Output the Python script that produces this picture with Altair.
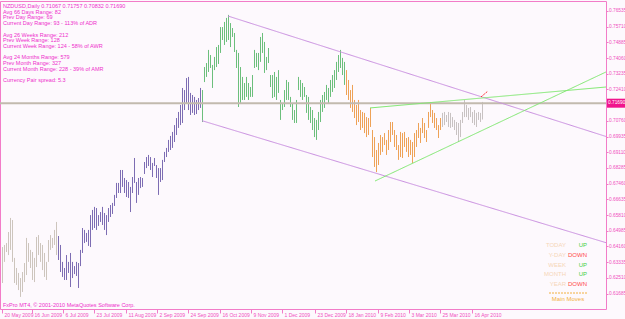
import altair as alt
import pandas as pd

# ---------------- data ----------------
highs = [
    0.6413, 0.6424, 0.6434, 0.6492, 0.6566, 0.6555, 0.6356, 0.6303, 0.6277, 0.6250,
    0.6282, 0.6329, 0.6461, 0.6434, 0.6398, 0.6387, 0.6356, 0.6466, 0.6476, 0.6434,
    0.6424, 0.6382, 0.6335, 0.6450, 0.6476, 0.6461, 0.6503, 0.6545,
    0.6471, 0.6424, 0.6335, 0.6303, 0.6371, 0.6335, 0.6382, 0.6335, 0.6313, 0.6335,
    0.6329, 0.6398, 0.6513, 0.6503, 0.6487, 0.6503, 0.6581, 0.6608, 0.6624, 0.6618,
    0.6581, 0.6597, 0.6624, 0.6592, 0.6581, 0.6618, 0.6634, 0.6645, 0.6687, 0.6750,
    0.6750, 0.6818, 0.6818, 0.6776, 0.6765, 0.6755, 0.6729, 0.6781, 0.6881, 0.6755,
    0.6776, 0.6781, 0.6776, 0.6860, 0.6886, 0.6897, 0.6886, 0.6855, 0.6881, 0.6844,
    0.6828, 0.6828, 0.6871, 0.6913, 0.6934, 0.6976, 0.6997, 0.7018, 0.7054, 0.7091,
    0.7123, 0.7160, 0.7249, 0.7238, 0.7301, 0.7307, 0.7223, 0.7212, 0.7202, 0.7186,
    0.7196, 0.7249,
    0.7238, 0.7359, 0.7380, 0.7449, 0.7422, 0.7370, 0.7412, 0.7464, 0.7475, 0.7569,
    0.7569, 0.7596, 0.7617, 0.7633, 0.7590, 0.7564, 0.7538, 0.7449, 0.7433, 0.7359,
    0.7307, 0.7275, 0.7307, 0.7275, 0.7254, 0.7317, 0.7449, 0.7433, 0.7433, 0.7517,
    0.7538, 0.7491, 0.7412, 0.7459, 0.7317, 0.7317, 0.7333, 0.7307, 0.7343, 0.7186,
    0.7170, 0.7238, 0.7291, 0.7280, 0.7202, 0.7170, 0.7133, 0.7186, 0.7307, 0.7291,
    0.7275, 0.7254, 0.7212, 0.7202, 0.7149, 0.7133, 0.7091, 0.7081, 0.7123, 0.7186,
    0.7212, 0.7228, 0.7265, 0.7249, 0.7291, 0.7317, 0.7343, 0.7386, 0.7422, 0.7449,
    0.7407, 0.7386,
    0.7343, 0.7291, 0.7238, 0.7265, 0.7186, 0.7160, 0.7186, 0.7133, 0.7123, 0.7118,
    0.7096, 0.7091, 0.7144, 0.7028, 0.6991, 0.6923, 0.6960, 0.7002, 0.6991, 0.7012,
    0.6976, 0.7028, 0.7070, 0.7070, 0.7028, 0.7002, 0.6949, 0.7018, 0.7012, 0.7018,
    0.6986, 0.6991, 0.6976, 0.6965, 0.7012, 0.7028, 0.7065, 0.7039, 0.7091, 0.7065,
    0.7028, 0.7123, 0.7175, 0.7133, 0.7118, 0.7091, 0.7054, 0.7091,
    0.7118, 0.7123, 0.7107, 0.7123, 0.7118, 0.7096, 0.7081, 0.7070, 0.7065, 0.7081,
    0.7123, 0.7186, 0.7160, 0.7144, 0.7149, 0.7123, 0.7133, 0.7118, 0.7123, 0.7118,
    0.71757,
]
lows = [
    0.6224, 0.6335, 0.6387, 0.6371, 0.6398, 0.6335, 0.6224, 0.6214, 0.6187, 0.6151,
    0.6177, 0.6229, 0.6266, 0.6335, 0.6303, 0.6240, 0.6229, 0.6308, 0.6371, 0.6335,
    0.6292, 0.6256, 0.6240, 0.6335, 0.6398, 0.6408, 0.6424, 0.6371,
    0.6345, 0.6282, 0.6256, 0.6240, 0.6240, 0.6277, 0.6203, 0.6250, 0.6271, 0.6261,
    0.6198, 0.6313, 0.6382, 0.6434, 0.6440, 0.6419, 0.6413, 0.6503, 0.6513, 0.6503,
    0.6524, 0.6545, 0.6529, 0.6503, 0.6476, 0.6545, 0.6571, 0.6587, 0.6629, 0.6671,
    0.6697, 0.6697, 0.6729, 0.6697, 0.6676, 0.6671, 0.6597, 0.6697, 0.6750, 0.6645,
    0.6687, 0.6723, 0.6729, 0.6797, 0.6828, 0.6839, 0.6818, 0.6781, 0.6839, 0.6776,
    0.6687, 0.6755, 0.6765, 0.6860, 0.6886, 0.6913, 0.6923, 0.6934, 0.6965, 0.7002,
    0.7039, 0.7054, 0.7065, 0.7133, 0.7170, 0.7133, 0.7107, 0.7118, 0.7107, 0.7112,
    0.7133, 0.7144,
    0.7070, 0.7280, 0.7307, 0.7333, 0.7354, 0.7249, 0.7343, 0.7359, 0.7375, 0.7433,
    0.7501, 0.7475, 0.7491, 0.7501, 0.7464, 0.7517, 0.7438, 0.7354, 0.7149, 0.7170,
    0.7186, 0.7186, 0.7202, 0.7186, 0.7202, 0.7202, 0.7354, 0.7359, 0.7343, 0.7386,
    0.7433, 0.7328, 0.7343, 0.7380, 0.7254, 0.7196, 0.7202, 0.7186, 0.7223, 0.7081,
    0.7133, 0.7149, 0.7186, 0.7186, 0.7149, 0.7081, 0.7065, 0.7065, 0.7238, 0.7202,
    0.7186, 0.7202, 0.7118, 0.7081, 0.7065, 0.7028, 0.6991, 0.6976, 0.7028, 0.7070,
    0.7123, 0.7144, 0.7186, 0.7170, 0.7202, 0.7228, 0.7249, 0.7291, 0.7333, 0.7354,
    0.7317, 0.7265,
    0.7212, 0.7186, 0.7144, 0.7123, 0.7091, 0.7054, 0.7070, 0.7028, 0.7039, 0.7012,
    0.6991, 0.7002, 0.7044, 0.6886, 0.6834, 0.6807, 0.6844, 0.6897, 0.6913, 0.6949,
    0.6897, 0.6923, 0.6965, 0.7002, 0.6939, 0.6923, 0.6871, 0.6886, 0.6881, 0.6939,
    0.6913, 0.6886, 0.6897, 0.6855, 0.6886, 0.6939, 0.6986, 0.6960, 0.7012, 0.6986,
    0.6965, 0.7039, 0.7096, 0.7065, 0.7039, 0.7028, 0.6986, 0.7028,
    0.7044, 0.7054, 0.7070, 0.7044, 0.7039, 0.7044, 0.7028, 0.7002, 0.6965, 0.6991,
    0.7065, 0.7096, 0.7096, 0.7081, 0.7096, 0.7065, 0.7054, 0.7044, 0.7081, 0.7070,
    0.70832,
]
phase_starts = [0, 28, 100, 172, 220]
phase_names = ["early", "rise", "top", "fall", "recent"]

date_ticks = [0, 15, 30.5, 46, 62, 77.5, 93, 109, 124.5, 140, 156.5, 172, 188, 203.5, 219, 235]
date_labels = ["20 May 2009", "16 Jun 2009", "6 Jul 2009", "23 Jul 2009", "11 Aug 2009",
               "2 Sep 2009", "24 Sep 2009", "16 Oct 2009", "9 Nov 2009", "1 Dec 2009",
               "23 Dec 2009", "18 Jan 2010", "9 Feb 2010", "3 Mar 2010", "25 Mar 2010",
               "16 Apr 2010"]
price_ticks = [0.76535, 0.75710, 0.74885, 0.74060, 0.73235, 0.72410, 0.70760, 0.69935,
               0.69110, 0.68285, 0.67460, 0.66635, 0.65810, 0.64985, 0.64160, 0.63335,
               0.62510, 0.61685, 0.60860]
last_close = 0.71690

# trend lines: (bar index, price)
line_names = ["chan_up", "chan_up", "chan_dn", "chan_dn", "tri_flat", "tri_flat",
              "tri_steep", "tri_steep", "arrow", "arrow"]
line_idx = [113, 302, 100, 302, 184, 302, 186.5, 302, 239.5, 243]
line_price = [0.7627, 0.6994, 0.7077, 0.6436, 0.7144, 0.7254, 0.6760, 0.7333, 0.7202, 0.7233]

info_lines = ["NZDUSD,Daily  0.71067 0.71757 0.70832 0.71690", "Avg 66 Days Range: 82",
              "Prev Day Range: 69", "Current Day Range: 93 - 113% of ADR", "",
              "Avg 26 Weeks Range: 212", "Prev Week Range: 128",
              "Current Week Range: 124 - 58% of AWR", "", "Avg 24 Months Range: 579",
              "Prev Month Range: 327", "Current Month Range: 228 - 39% of AMR", "",
              "Currency Pair spread: 5.3"]
moves_names = ["TODAY", "Y-DAY", "WEEK", "MONTH", "YEAR"]
moves_dirs = ["UP", "DOWN", "UP", "UP", "DOWN"]

# ---------------- styling ----------------
PINK = "#f04fc0"
BORDER = "#f27cc8"
FONT = "Liberation Sans"
phase_colors = ["#cdc5bd", "#7d6db3", "#6cbf7c", "#eea257", "#c8c2c2"]
line_colors = {"chan_up": "#c98ee0", "chan_dn": "#c98ee0", "tri_flat": "#7ee86e",
               "tri_steep": "#7ee86e", "arrow": "#ff3030"}

n = len(highs)
phase = []
for i in range(n):
    k = max(j for j, s in enumerate(phase_starts) if i >= s)
    phase.append(phase_names[k])
bars = pd.DataFrame({"i": list(range(n)), "hi": highs, "lo": lows, "phase": phase})

xscale = alt.Scale(domain=[-1, 302], nice=False, zero=False)
yscale = alt.Scale(domain=[0.60875, 0.77060], nice=False, zero=False)

label_expr = " : ".join(f"datum.value == {t} ? '{l}'" for t, l in zip(date_ticks, date_labels)) + " : ''"

xaxis = alt.Axis(
    values=date_ticks, labelExpr=label_expr, orient="bottom", title=None, grid=False,
    domain=False, tickSize=4, tickColor=BORDER, labelAlign="left", labelBaseline="middle",
    labelPadding=1, labelOffset=2, labelFontSize=5, labelColor=PINK, labelFont=FONT,
    labelOverlap=False, labelFlush=False)
yaxis = alt.Axis(
    values=price_ticks, format=".5f", orient="right", title=None, grid=False, domain=False,
    tickSize=2, tickColor=BORDER, labelFontSize=4.8, labelColor=PINK, labelFont=FONT,
    labelPadding=0.5, labelOverlap=False, labelFlush=False)


def X(field):
    return alt.X(field, scale=xscale, axis=xaxis, title=None)


def Y(field):
    return alt.Y(field, scale=yscale, axis=yaxis, title=None)


bar_layer = alt.Chart(bars).mark_rule(strokeWidth=1, xOffset=0.5).encode(
    x=X("i:Q"), y=Y("hi:Q"), y2="lo:Q",
    color=alt.Color("phase:N", scale=alt.Scale(domain=phase_names, range=phase_colors), legend=None),
)

price_line = alt.Chart(pd.DataFrame({"p": [last_close]})).mark_rule(
    color="#c2baae", strokeWidth=2).encode(y=Y("p:Q"))

lines_df = pd.DataFrame({"name": line_names, "i": line_idx, "p": line_price})
trend_layers = []
for nm, col in line_colors.items():
    sub = lines_df[lines_df["name"] == nm]
    trend_layers.append(alt.Chart(sub).mark_line(
        color=col, strokeWidth=1, clip=True,
        strokeDash=[2, 1] if nm == "arrow" else [1, 0]).encode(x=X("i:Q"), y=Y("p:Q")))

cp = pd.DataFrame({"p": [last_close], "t": [f"{last_close:.5f}"]})
cp_box = alt.Chart(cp).mark_rule(color="#f0148c", strokeWidth=9).encode(
    x=alt.value(607), x2=alt.value(625), y=Y("p:Q"))
cp_text = alt.Chart(cp).mark_text(align="left", baseline="middle", fontSize=4.8, font=FONT,
                                  color="white").encode(
    x=alt.value(608), y=Y("p:Q"), text="t:N")

text_layers = []
for r, line in enumerate(info_lines):
    if line:
        text_layers.append(alt.Chart(pd.DataFrame({"t": [line]})).mark_text(
            align="left", baseline="middle", fontSize=5.5, font=FONT, color="#ee2fcc").encode(
            x=alt.value(3), y=alt.value(5 + 5.7 * r), text="t:N"))

text_layers.append(alt.Chart(pd.DataFrame({"t": ["FxPro MT4, \u00a9 2001-2010 MetaQuotes Software Corp."]})).mark_text(
    align="left", baseline="middle", fontSize=5.5, font=FONT, color="#ee2fcc").encode(
    x=alt.value(3), y=alt.value(304), text="t:N"))

for r, (nm, d) in enumerate(zip(moves_names, moves_dirs)):
    yy = 244 + 9.8 * r
    text_layers.append(alt.Chart(pd.DataFrame({"t": [nm]})).mark_text(
        align="right", baseline="middle", fontSize=6, font=FONT, color="#f6d6b8").encode(
        x=alt.value(566), y=alt.value(yy), text="t:N"))
    text_layers.append(alt.Chart(pd.DataFrame({"t": [d]})).mark_text(
        align="right", baseline="middle", fontSize=6, font=FONT,
        color="#44d044" if d == "UP" else "#ff4a4a").encode(
        x=alt.value(587), y=alt.value(yy), text="t:N"))

text_layers.append(alt.Chart(pd.DataFrame({"a": [0]})).mark_rule(
    color="#f2b040", strokeDash=[2, 1], strokeWidth=1).encode(
    x=alt.value(549), x2=alt.value(588), y=alt.value(292)))
text_layers.append(alt.Chart(pd.DataFrame({"t": ["Main Moves"]})).mark_text(
    align="center", baseline="middle", fontSize=6, font=FONT, color="#f2b040").encode(
    x=alt.value(568), y=alt.value(297.5), text="t:N"))

chart = alt.layer(bar_layer, price_line, *trend_layers, cp_box, cp_text, *text_layers).properties(
    width=606, height=308,
    autosize=alt.AutoSizeParams(type="none"),
    padding={"left": 0, "top": 1, "right": 19, "bottom": 10},
    background="#fdf9fd",
).configure_view(stroke=BORDER, strokeWidth=1)

chart.save("out.html", embed_options={"renderer": "svg", "actions": False})
